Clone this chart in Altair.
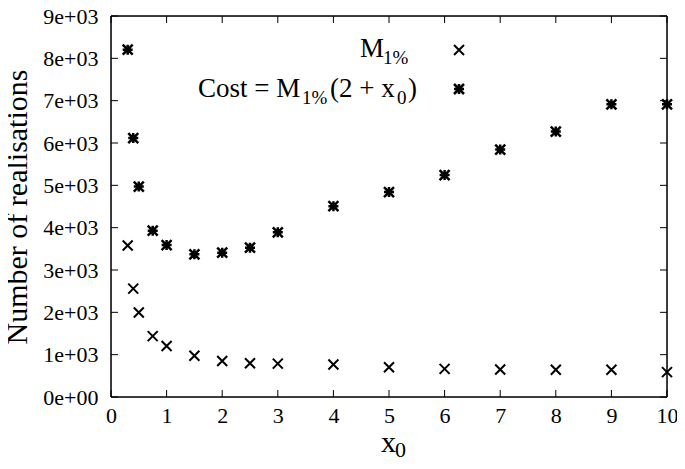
import altair as alt
import pandas as pd

# ---- data ----
x0 = [0.3, 0.4, 0.5, 0.75, 1, 1.5, 2, 2.5, 3, 4, 5, 6, 7, 8, 9, 10]
m1 = [3580, 2560, 1995, 1438, 1206, 974, 851, 796, 789, 766, 703, 665, 650, 642, 642, 587]
cost = [8204, 6116, 4971, 3928, 3588, 3371, 3410, 3526, 3890, 4507, 4841, 5242, 5845, 6270, 6913, 6913]
x_ticks = [0, 1, 2, 3, 4, 5, 6, 7, 8, 9, 10]
y_ticks = [0, 1000, 2000, 3000, 4000, 5000, 6000, 7000, 8000, 9000]
y_title = "Number of realisations"
legend_m1 = ["M", "1%"]
legend_cost = ["Cost = M", "1%", "(2 + x", "0", ")"]
x_title = ["x", "0"]

W, H = 556, 381
FONT = "Liberation Serif"
TICK_FS = 22
TITLE_FS = 30
LEG_FS = 27
SUB_FS = 19

xs = alt.Scale(domain=[0, 10], nice=False)
ys = alt.Scale(domain=[0, 9000], nice=False)

xaxis = alt.Axis(
    values=x_ticks, title="", ticks=False, domain=False, grid=False,
    labelFont=FONT, labelFontSize=TICK_FS, labelColor="black", labelPadding=8,
    labelFlush=False)
yaxis = alt.Axis(
    values=y_ticks, title=y_title, ticks=False, domain=False, grid=False,
    labelFont=FONT, labelFontSize=TICK_FS, labelColor="black", labelPadding=13,
    labelFlush=False,
    labelExpr="datum.value == 0 ? '0e+00' : (datum.value / 1000) + 'e+03'",
    titleFont=FONT, titleFontSize=TITLE_FS, titleFontWeight="normal",
    titleColor="black", titlePadding=10)

df = pd.DataFrame({"x0": x0, "m1": m1, "cost": cost})

CROSS = "M-1,-1L1,1M-1,1L1,-1"
STAR = "M-1,0L1,0M0,-1L0,1M-1,-1L1,1M-1,1L1,-1"

m1_pts = alt.Chart(df).mark_point(
    shape=CROSS, size=100, filled=False, stroke="black", strokeWidth=2, opacity=1
).encode(
    x=alt.X("x0:Q", scale=xs, axis=xaxis),
    y=alt.Y("m1:Q", scale=ys, axis=yaxis),
)

cost_pts = alt.Chart(df).mark_point(
    shape=STAR, size=100, filled=False, stroke="black", strokeWidth=2.5, opacity=1
).encode(
    x=alt.X("x0:Q", scale=xs, axis=xaxis),
    y=alt.Y("cost:Q", scale=ys, axis=yaxis),
)

xt = pd.DataFrame({"x0": x_ticks})
yt = pd.DataFrame({"m1": y_ticks})
TL = 7
tick_layers = [
    alt.Chart(xt).mark_rule(color="black", strokeWidth=1).encode(
        x=alt.X("x0:Q", scale=xs, axis=xaxis), y=alt.value(H), y2=alt.value(H - TL)),
    alt.Chart(xt).mark_rule(color="black", strokeWidth=1).encode(
        x=alt.X("x0:Q", scale=xs, axis=xaxis), y=alt.value(0), y2=alt.value(TL)),
    alt.Chart(yt).mark_rule(color="black", strokeWidth=1).encode(
        y=alt.Y("m1:Q", scale=ys, axis=yaxis), x=alt.value(0), x2=alt.value(TL)),
    alt.Chart(yt).mark_rule(color="black", strokeWidth=1).encode(
        y=alt.Y("m1:Q", scale=ys, axis=yaxis), x=alt.value(W), x2=alt.value(W - TL)),
]

# frame
frame = [
    alt.Chart(pd.DataFrame({"s": [1]})).mark_rule(color="black", strokeWidth=1.5).encode(
        x=alt.value(0), y=alt.value(0), y2=alt.value(H)),
    alt.Chart(pd.DataFrame({"s": [1]})).mark_rule(color="black", strokeWidth=1.5).encode(
        x=alt.value(W), y=alt.value(0), y2=alt.value(H)),
    alt.Chart(pd.DataFrame({"s": [1]})).mark_rule(color="black", strokeWidth=1.5).encode(
        y=alt.value(0), x=alt.value(0), x2=alt.value(W)),
    alt.Chart(pd.DataFrame({"s": [1]})).mark_rule(color="black", strokeWidth=1.5).encode(
        y=alt.value(H), x=alt.value(0), x2=alt.value(W)),
]


def txt(s, x, y, fs):
    return alt.Chart(pd.DataFrame({"s": [s]})).mark_text(
        font=FONT, fontSize=fs, color="black", align="left", baseline="alphabetic"
    ).encode(text="s:N", x=alt.value(x), y=alt.value(y))


texts = [
    txt(legend_m1[0], 249, 41, LEG_FS),
    txt(legend_m1[1], 272, 48, SUB_FS),
    txt(legend_cost[0], 87, 81, LEG_FS),
    txt(legend_cost[1], 191, 88, SUB_FS),
    txt(legend_cost[2], 219, 81, LEG_FS),
    txt(legend_cost[3], 286, 88, SUB_FS),
    txt(legend_cost[4], 297, 81, LEG_FS),
    txt(x_title[0], 270, 436, TITLE_FS),
    txt(x_title[1], 284, 441, 22),
]

leg_sym = [
    alt.Chart(pd.DataFrame({"s": [1]})).mark_point(
        shape=CROSS, size=100, filled=False, stroke="black", strokeWidth=2, opacity=1
    ).encode(x=alt.value(348), y=alt.value(34)),
    alt.Chart(pd.DataFrame({"s": [1]})).mark_point(
        shape=STAR, size=100, filled=False, stroke="black", strokeWidth=2.5, opacity=1
    ).encode(x=alt.value(348), y=alt.value(73)),
]

chart = alt.layer(m1_pts, cost_pts, *tick_layers, *frame, *texts, *leg_sym).properties(
    width=W, height=H,
    autosize=alt.AutoSizeParams(type="none"),
    padding={"left": 103, "top": 8, "right": 10, "bottom": 63},
).configure_view(strokeWidth=0).configure(background="white")

chart.save("out.html", embed_options={"renderer": "svg", "actions": False})
